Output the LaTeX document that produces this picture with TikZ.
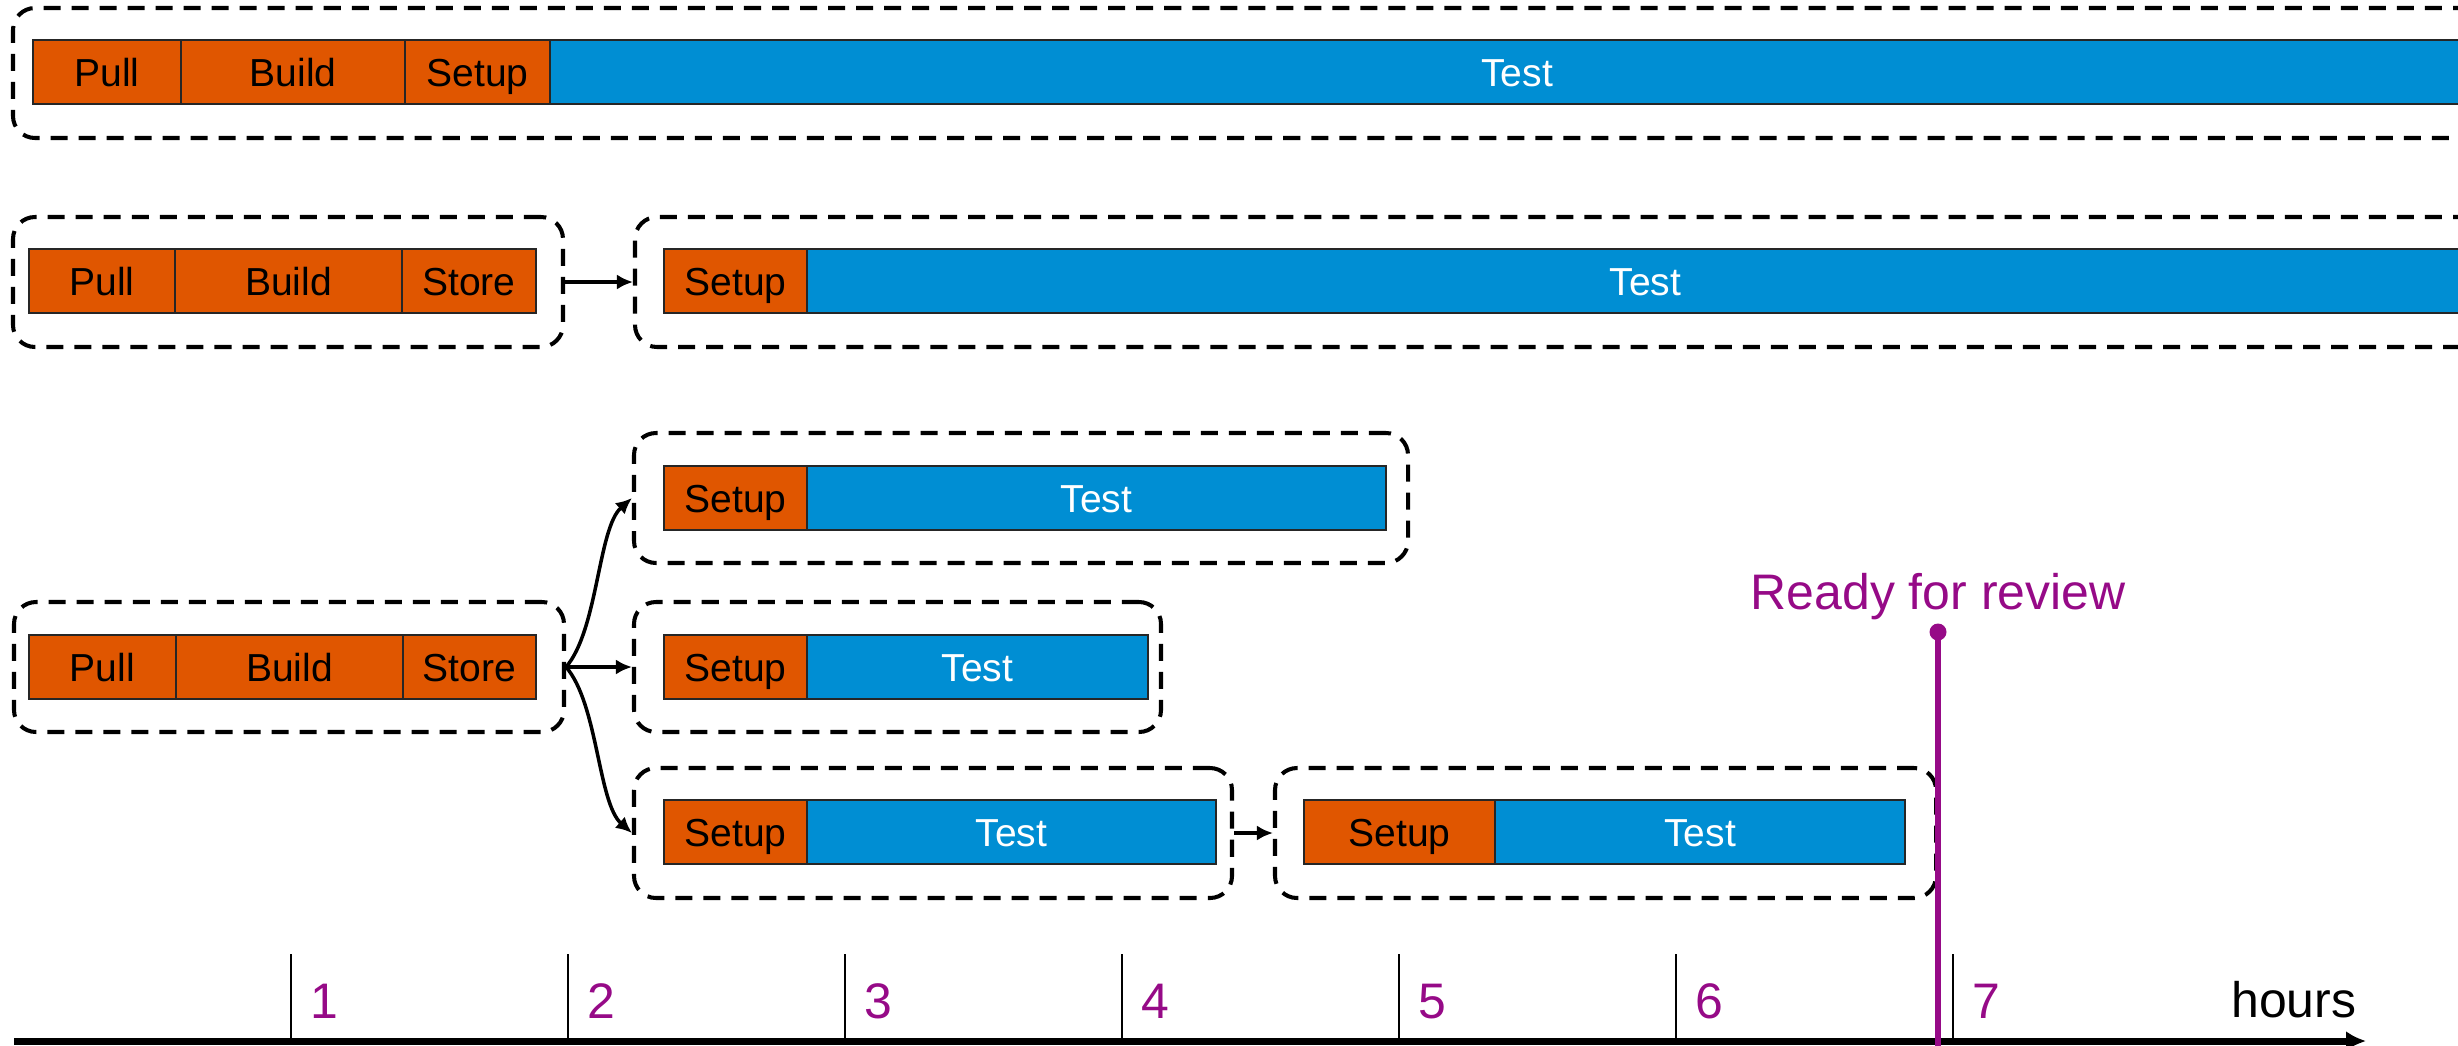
\documentclass[tikz,border=0pt]{standalone}
\usepackage{fontspec}
\setmainfont{Liberation Sans}
\usetikzlibrary{arrows.meta,fit}
\definecolor{stepor}{RGB}{224,86,0}
\definecolor{testbl}{RGB}{0,142,211}
\definecolor{revpurple}{RGB}{150,10,135}
% one segment of a job bar: name, style, left x, right x, centre y, text
\newcommand\barpart[6]{%
  \node (#1) [#2, minimum width={(#4-#3)*0.01cm}] at ({(#3+#4)/2},#5) {#6};}
\begin{document}
\begin{tikzpicture}[x=0.01cm, y=-0.01cm,
  seg/.style={draw=black!85, line width=0.5pt, inner sep=0pt, minimum height=0.64cm,
    text height=0.28cm, text depth=0pt,
    font=\fontsize{11.1pt}{13pt}\selectfont},
  prep/.style={seg, fill=stepor, text=black},
  testseg/.style={seg, fill=testbl, text=white},
  grp/.style={draw=black, line width=1.15pt, dash pattern=on 0.17cm off 0.11cm,
    rounded corners=0.22cm, inner sep=0pt},
  conn/.style={draw=black, line width=1pt, -{Latex[length=0.16cm,width=0.15cm]}},
  big/.style={font=\fontsize{14.2pt}{17pt}\selectfont, inner sep=0pt},
]
\useasboundingbox (0,0) rectangle (2458,1045);
\clip (0,0) rectangle (2458,1045);

% --- single job: pull, build, setup and test in one run
\barpart{r1pull}{prep}{33}{181}{72}{Pull}
\barpart{r1build}{prep}{181}{405}{72}{Build}
\barpart{r1setup}{prep}{405}{550}{72}{Setup}
\barpart{r1test}{testseg}{550}{2484}{72}{Test}
\node (r1grp) [grp, fit={(13,8) (2520,138)}] {};

% --- two jobs: build and store, then setup and test
\barpart{r2pull}{prep}{29}{175}{281}{Pull}
\barpart{r2build}{prep}{175}{402}{281}{Build}
\barpart{r2store}{prep}{402}{536}{281}{Store}
\node (r2pre) [grp, fit={(13,217) (563,347)}] {};
\barpart{r2setup}{prep}{664}{807}{281}{Setup}
\barpart{r2test}{testseg}{807}{2484}{281}{Test}
\node (r2post) [grp, fit={(635,217) (2520,347)}] {};
\draw[conn] (r2pre.east) -- (r2post.west);

% --- fan-out: one build feeding parallel test jobs
\barpart{r3pull}{prep}{29}{176}{667}{Pull}
\barpart{r3build}{prep}{176}{403}{667}{Build}
\barpart{r3store}{prep}{403}{536}{667}{Store}
\node (r3pre) [grp, fit={(14,602) (564,732)}] {};

\barpart{aSetup}{prep}{664}{807}{498}{Setup}
\barpart{aTest}{testseg}{807}{1386}{498}{Test}
\node (aGrp) [grp, fit={(634,433) (1408,563)}] {};

\barpart{bSetup}{prep}{664}{807}{667}{Setup}
\barpart{bTest}{testseg}{807}{1148}{667}{Test}
\node (bGrp) [grp, fit={(634,602) (1161,732)}] {};

\barpart{cSetup}{prep}{664}{807}{832}{Setup}
\barpart{cTest}{testseg}{807}{1216}{832}{Test}
\node (cGrp) [grp, fit={(634,768) (1232,898)}] {};

\barpart{dSetup}{prep}{1304}{1495}{832}{Setup}
\barpart{dTest}{testseg}{1495}{1905}{832}{Test}
\node (dGrp) [grp, fit={(1275,768) (1936,898)}] {};

\draw[conn] (r3pre.east) .. controls +(32,-37) and +(-34,30) .. (aGrp.west);
\draw[conn] (r3pre.east) -- (bGrp.west);
\draw[conn] (r3pre.east) .. controls +(32,37) and +(-34,-30) .. (cGrp.west);
\draw[conn] (cGrp.east) -- (dGrp.west);

% --- time axis in hours
\coordinate (axStart) at (14,1041);
\coordinate (axEnd) at (2366,1041);
\draw[line width=2pt, -{Latex[length=0.2cm,width=0.2cm]}] (axStart) -- (axEnd);
\foreach \k in {1,...,7}{
  \draw[line width=0.6pt] ({14+277*\k},954) -- ({14+277*\k},1041);
  \node (hr\k) [big, text=revpurple, anchor=base west] at ({14+277*\k+19},1018) {\k};
}
\node (hours) [big, anchor=base east] at (2357,1017) {hours};

% --- review marker
\coordinate (revFoot) at (1938,1050);
\node (revDot) [circle, fill=revpurple, inner sep=0pt, minimum size=0.17cm] at (1938,632) {};
\draw[revpurple, line width=1.7pt] (revDot.center) -- (revFoot);
\node (revLabel) [big, text=revpurple, anchor=base] at (1938,609) {Ready for review};
\end{tikzpicture}
\end{document}
